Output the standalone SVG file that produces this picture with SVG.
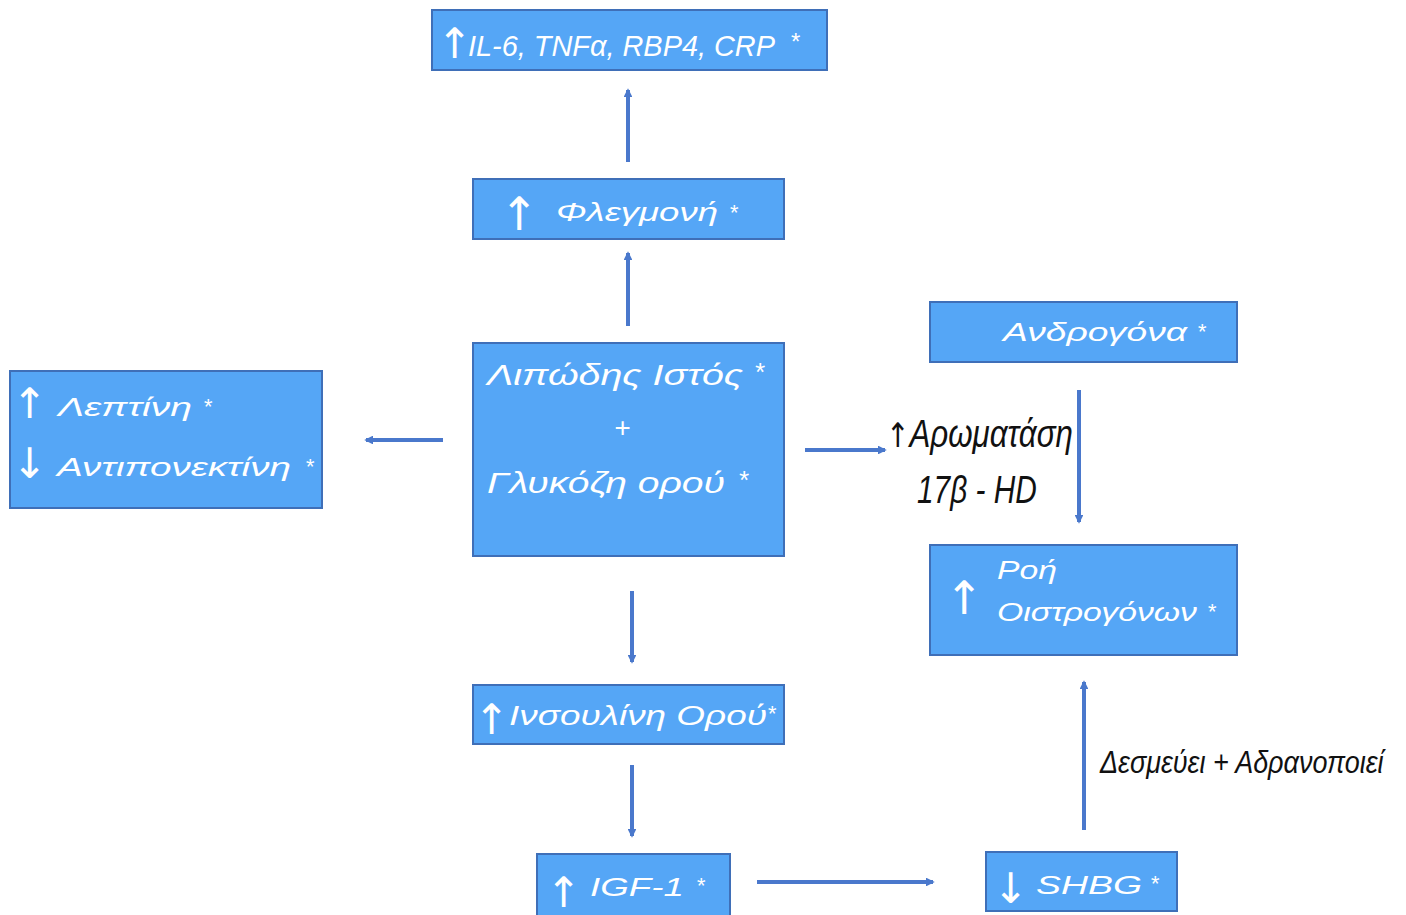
<svg xmlns="http://www.w3.org/2000/svg" width="1406" height="915" viewBox="0 0 1406 915">
<style>
.box{fill:#55a6f6;stroke:#3f6fb8;stroke-width:2}
.t{fill:#ffffff;font-family:"Liberation Sans","DejaVu Sans",sans-serif;font-style:italic}
.ar{fill:#ffffff;font-family:"DejaVu Sans","Liberation Sans",sans-serif}
.lbl{fill:#111111;font-family:"Liberation Sans Narrow","Liberation Sans","DejaVu Sans",sans-serif;font-style:italic}
.barr{font-family:"DejaVu Sans","Liberation Sans",sans-serif;font-style:normal}
.conn line{stroke:#4a78cc;stroke-width:4;marker-end:url(#ah)}
</style>
<defs>
<marker id="ah" viewBox="0 0 10 10" refX="8" refY="5" markerWidth="2.2" markerHeight="2.2" orient="auto" markerUnits="strokeWidth">
<path d="M0,0 L10,5 L0,10 z" fill="#4a78cc"/>
</marker>
</defs>
<rect width="1406" height="915" fill="#ffffff"/>

<g id="n-il6">
<rect class="box" x="432" y="10" width="395" height="60"/>
<text class="ar" x="437" y="58" font-size="42">↑</text>
<text class="t" x="468" y="56" font-size="30" textLength="307" lengthAdjust="spacingAndGlyphs">IL-6, TNFα, RBP4, CRP</text>
<text class="t" x="790" y="50" font-size="24">*</text>
</g>

<g id="n-flegmoni">
<rect class="box" x="473" y="179" width="311" height="60"/>
<text class="ar" x="500" y="230" font-size="46">↑</text>
<text class="t" x="556" y="221" font-size="26" textLength="162" lengthAdjust="spacingAndGlyphs">Φλεγμονή</text>
<text class="t" x="729" y="220" font-size="22">*</text>
</g>

<g id="n-leptini">
<rect class="box" x="10" y="371" width="312" height="137"/>
<text class="ar" x="12" y="418" font-size="42">↑</text>
<text class="t" x="58" y="416" font-size="26" textLength="134" lengthAdjust="spacingAndGlyphs">Λεπτίνη</text>
<text class="t" x="203" y="414" font-size="22">*</text>
<text class="ar" x="12" y="478" font-size="42">↓</text>
<text class="t" x="57" y="476" font-size="26" textLength="234" lengthAdjust="spacingAndGlyphs">Αντιπονεκτίνη</text>
<text class="t" x="305" y="474" font-size="22">*</text>
</g>

<g id="n-center">
<rect class="box" x="473" y="343" width="311" height="213"/>
<text class="t" x="487" y="385" font-size="30" textLength="256" lengthAdjust="spacingAndGlyphs">Λιπώδης Ιστός</text>
<text class="t" x="754" y="381" font-size="26">*</text>
<text class="t" x="614" y="437" font-size="28">+</text>
<text class="t" x="487" y="493" font-size="30" textLength="238" lengthAdjust="spacingAndGlyphs">Γλυκόζη ορού</text>
<text class="t" x="738" y="489" font-size="26">*</text>
</g>

<g id="n-androgona">
<rect class="box" x="930" y="302" width="307" height="60"/>
<text class="t" x="1003" y="341" font-size="26" textLength="184" lengthAdjust="spacingAndGlyphs">Ανδρογόνα</text>
<text class="t" x="1197" y="339" font-size="22">*</text>
</g>

<g id="n-roi">
<rect class="box" x="930" y="545" width="307" height="110"/>
<text class="ar" x="945" y="614" font-size="46">↑</text>
<text class="t" x="997" y="579" font-size="26" textLength="60" lengthAdjust="spacingAndGlyphs">Ροή</text>
<text class="t" x="997" y="621" font-size="26" textLength="200" lengthAdjust="spacingAndGlyphs">Οιστρογόνων</text>
<text class="t" x="1207" y="619" font-size="22">*</text>
</g>

<g id="n-insulini">
<rect class="box" x="473" y="685" width="311" height="59"/>
<text class="ar" x="474" y="734" font-size="42">↑</text>
<text class="t" x="509" y="725" font-size="28" textLength="258" lengthAdjust="spacingAndGlyphs">Ινσουλίνη Ορού</text>
<text class="t" x="767" y="721" font-size="22">*</text>
</g>

<g id="n-igf1">
<rect class="box" x="537" y="854" width="193" height="62"/>
<text class="ar" x="546" y="907" font-size="42">↑</text>
<text class="t" x="590" y="896" font-size="26" textLength="94" lengthAdjust="spacingAndGlyphs">IGF-1</text>
<text class="t" x="696" y="893" font-size="22">*</text>
</g>

<g id="n-shbg">
<rect class="box" x="986" y="852" width="191" height="59"/>
<text class="ar" x="993" y="903" font-size="42">↓</text>
<text class="t" x="1036" y="894" font-size="26" textLength="106" lengthAdjust="spacingAndGlyphs">SHBG</text>
<text class="t" x="1150" y="891" font-size="22">*</text>
</g>

<g id="labels">
<g transform="translate(886,447) scale(0.7,1)">
<text class="lbl" x="0" y="0" font-size="38" textLength="267" lengthAdjust="spacingAndGlyphs"><tspan class="barr" font-size="34">↑</tspan>Αρωματάση</text>
</g>
<g transform="translate(917,503) scale(0.7,1)">
<text class="lbl" x="0" y="0" font-size="38" textLength="171" lengthAdjust="spacingAndGlyphs">17β - HD</text>
</g>
<g transform="translate(1100,773) scale(0.7,1)">
<text class="lbl" x="0" y="0" font-size="32" textLength="405" lengthAdjust="spacingAndGlyphs">Δεσμεύει + Αδρανοποιεί</text>
</g>
</g>

<g id="connectors" class="conn">
<line x1="628" y1="162" x2="628" y2="90"/>
<line x1="628" y1="326" x2="628" y2="253"/>
<line x1="443" y1="440" x2="366" y2="440"/>
<line x1="805" y1="450" x2="885" y2="450"/>
<line x1="1079" y1="390" x2="1079" y2="522"/>
<line x1="632" y1="591" x2="632" y2="662"/>
<line x1="632" y1="765" x2="632" y2="836"/>
<line x1="757" y1="882" x2="933" y2="882"/>
<line x1="1084" y1="830" x2="1084" y2="682"/>
</g>
</svg>
